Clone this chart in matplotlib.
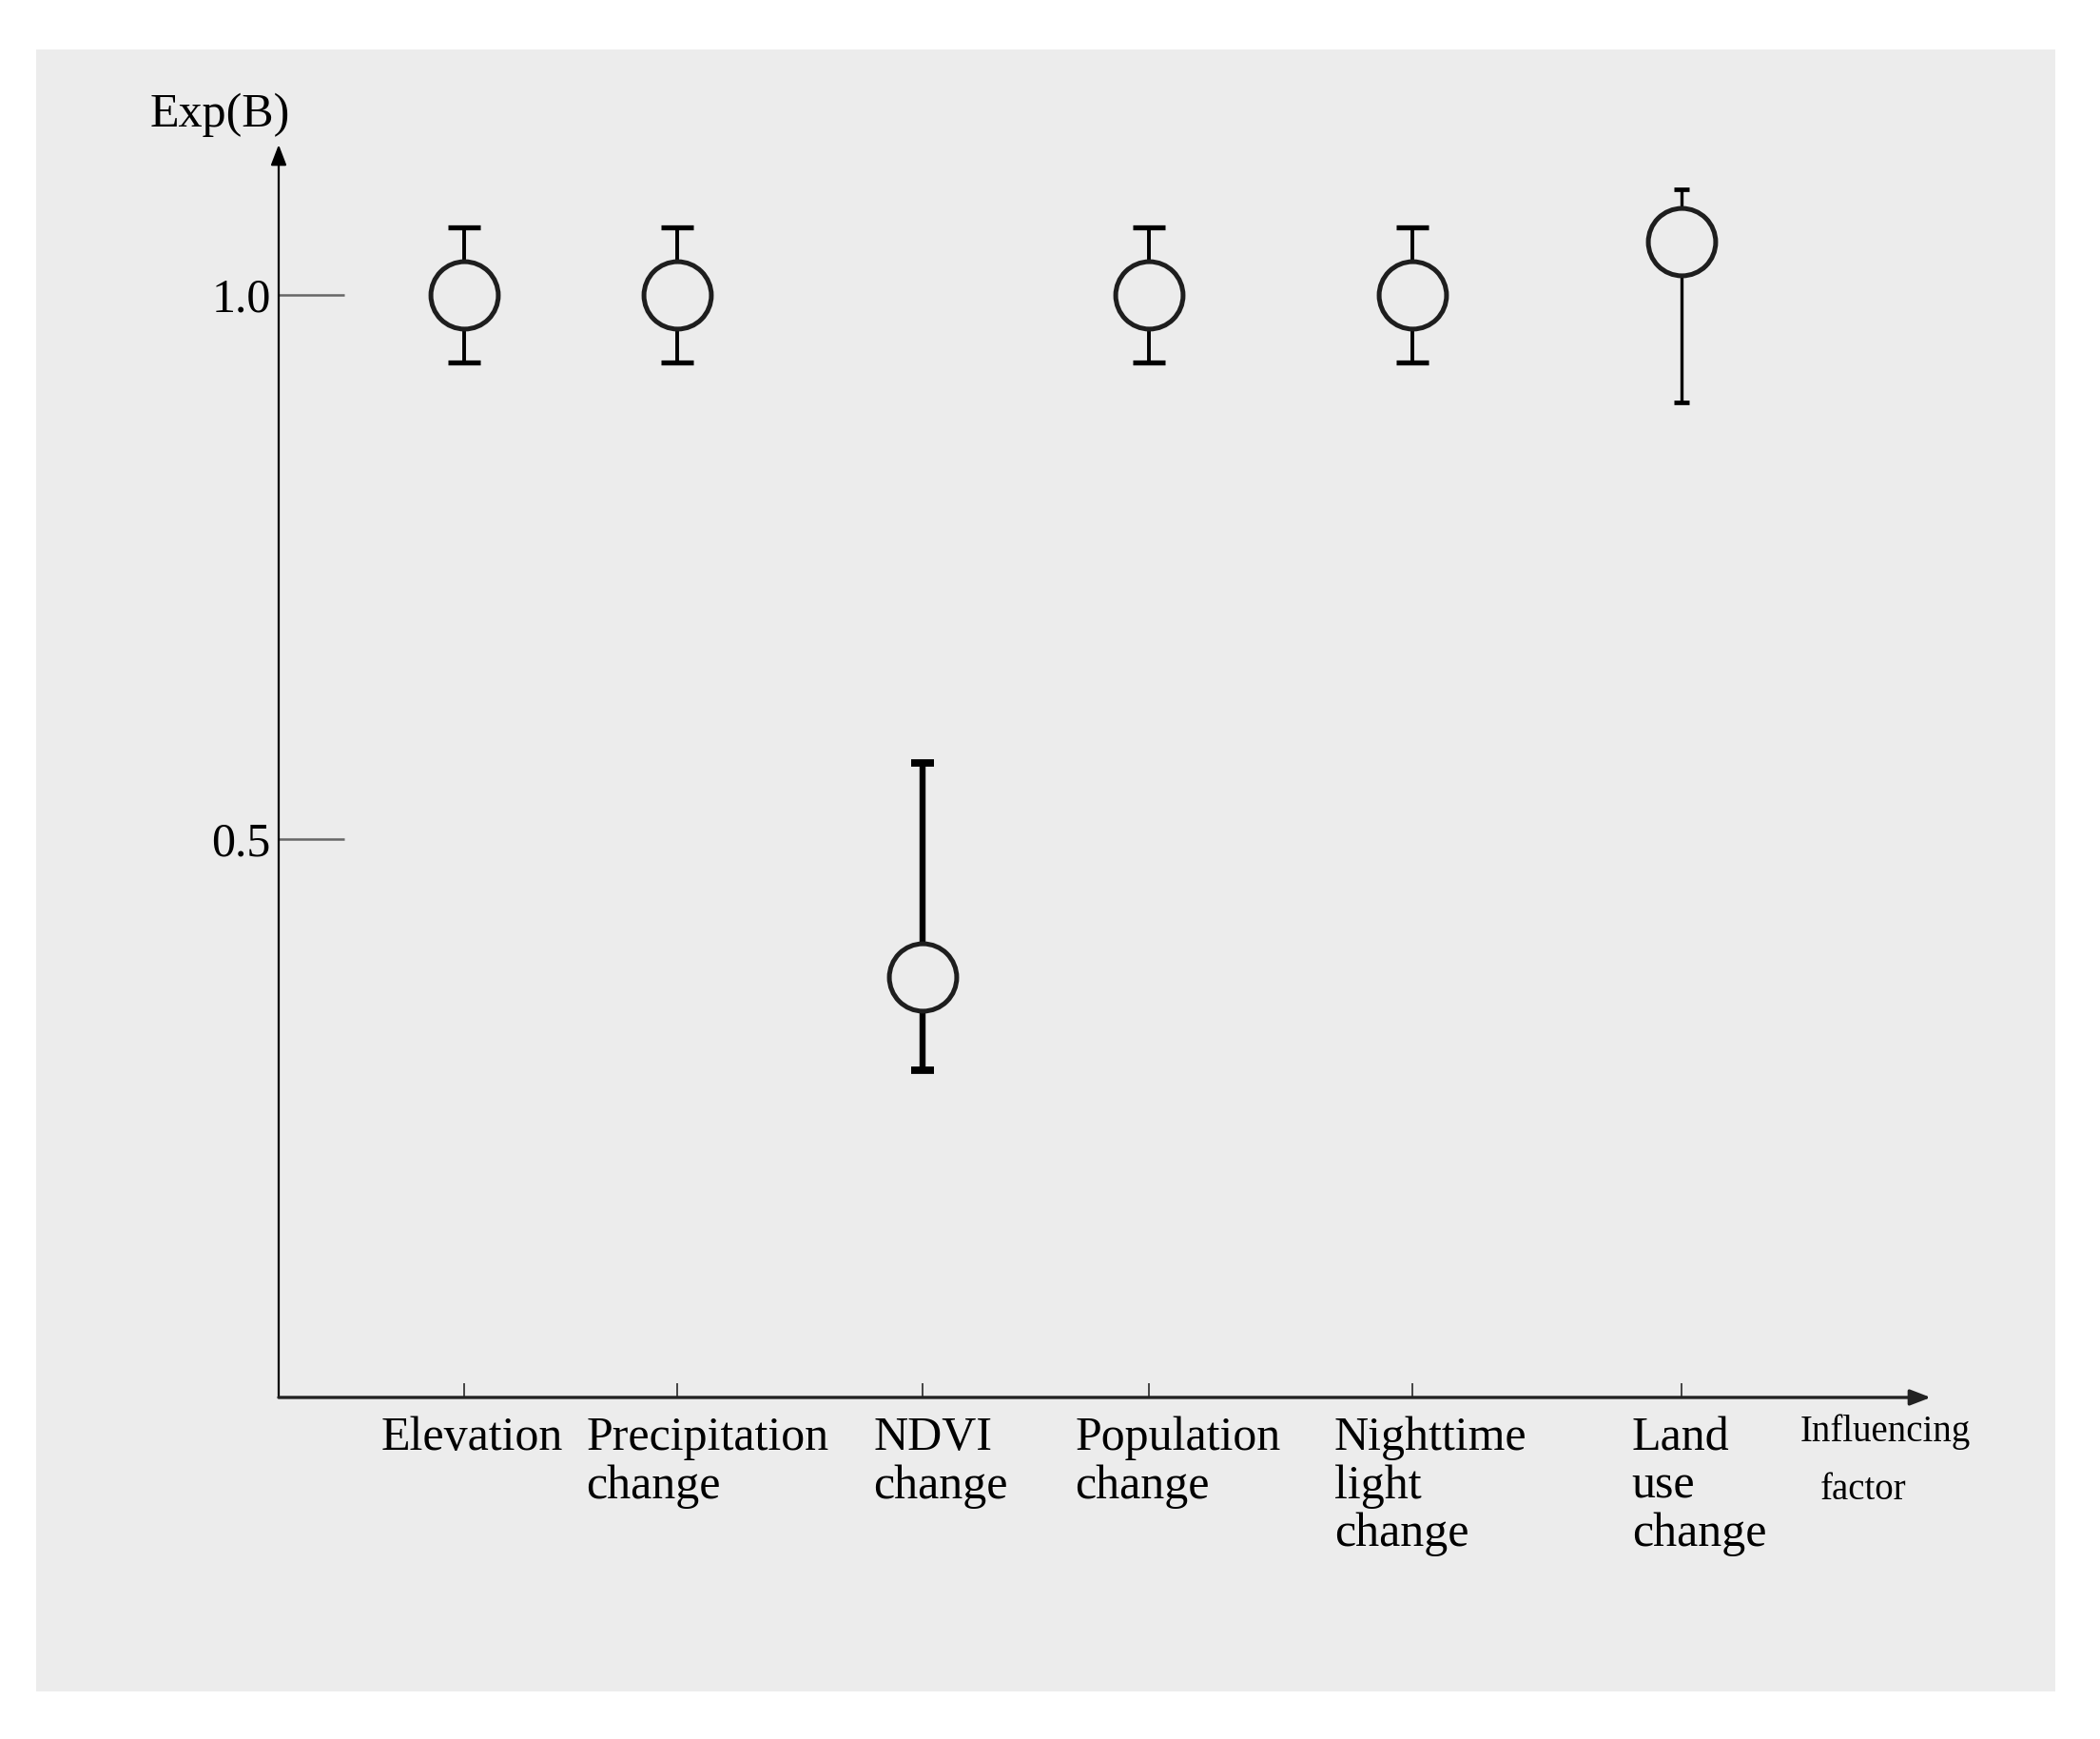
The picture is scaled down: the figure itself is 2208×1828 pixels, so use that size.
import matplotlib
matplotlib.use("Agg")
import matplotlib.pyplot as plt
from matplotlib.patches import Rectangle

# data
factors = ["Elevation", "Precipitation\nchange", "NDVI\nchange",
           "Population\nchange", "Nighttime\nlight\nchange", "Land\nuse\nchange"]
exp_b = [1.0, 1.0, 0.373, 1.0, 1.0, 1.049]
ci_low = [0.938, 0.938, 0.287, 0.938, 0.938, 0.901]
ci_high = [1.062, 1.062, 0.570, 1.062, 1.062, 1.097]
yticks = [0.5, 1.0]
ytick_labels = ["0.5", "1.0"]

# layout (x axis runs 0..100, categories are not evenly spaced)
xpos = [11.2, 24.1, 39.0, 52.7, 68.6, 84.9]
label_x = [6.2, 18.6, 36.0, 48.2, 63.9, 81.9]
bar_lw = [2.8, 2.8, 4.6, 2.8, 2.8, 2.4]
cap_sz = [12, 12, 8.5, 12, 12, 5.5]

bg = "#ececec"
serif = ["Liberation Serif", "DejaVu Serif"]
plt.rcParams["font.family"] = serif

fig = plt.figure(figsize=(22.08, 18.28), dpi=100)
fig.patch.set_facecolor("white")
panel = Rectangle((0.0172, 0.0274), 0.9615, 0.9442, transform=fig.transFigure,
                  facecolor=bg, edgecolor="none", zorder=-10)
fig.add_artist(panel)

ax = fig.add_axes([0.1327, 0.1964, 0.7867, 0.7204])
ax.set_facecolor("none")
ax.set_xlim(0, 100)
ax.set_ylim(-0.0135, 1.138)
for s in ax.spines.values():
    s.set_visible(False)

# axes with arrow heads
ax.annotate("", xy=(0, 1), xytext=(0, 0), xycoords="axes fraction",
            arrowprops=dict(arrowstyle="-|>,head_length=1.3,head_width=0.5",
                            color="black", lw=1.6, shrinkA=0, shrinkB=0))
ax.annotate("", xy=(1, 0), xytext=(0, 0), xycoords="axes fraction",
            arrowprops=dict(arrowstyle="-|>,head_length=1.3,head_width=0.5",
                            color="#222222", lw=2.4, shrinkA=0, shrinkB=0))

ax.set_yticks(yticks)
ax.set_yticklabels(ytick_labels, fontsize=36)
ax.tick_params(axis="y", direction="in", length=50, width=1.8, color="#666666", pad=6)
ax.set_xticks(xpos)
ax.set_xticklabels([])
ax.tick_params(axis="x", direction="in", length=11, width=1.4, color="#444444")

for i in range(len(factors)):
    lo = exp_b[i] - ci_low[i]
    hi = ci_high[i] - exp_b[i]
    ax.errorbar([xpos[i]], [exp_b[i]], yerr=[[lo], [hi]], fmt="none", ecolor="black",
                elinewidth=bar_lw[i], capsize=cap_sz[i], capthick=bar_lw[i] + 1, zorder=2)
    ax.plot([xpos[i]], [exp_b[i]], "o", ms=51, mfc=bg, mec="#1e1e1e", mew=3.6, zorder=3)
    ax.text(label_x[i], -0.031, factors[i], ha="left", va="top", fontsize=36,
            linespacing=1.1)

ax.text(92.1, -0.029, "Influencing", ha="left", va="top", fontsize=28)
ax.text(93.3, -0.083, "factor", ha="left", va="top", fontsize=28)

fig.text(0.1046, 0.934, "Exp(B)", ha="center", va="center", fontsize=36)

fig.savefig("out.png", dpi=100, facecolor="white")
